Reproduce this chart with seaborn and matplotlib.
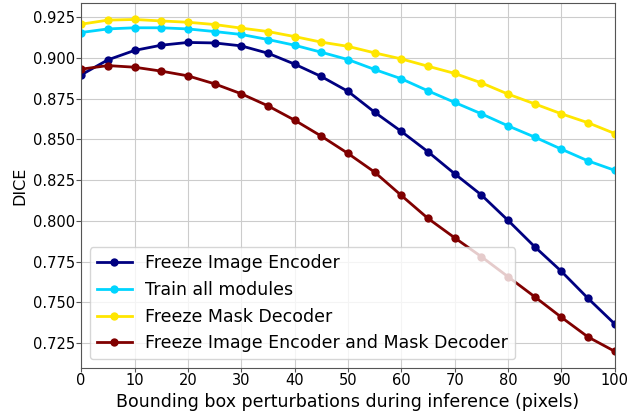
import numpy as np
import pandas as pd
import matplotlib
matplotlib.use("Agg")
import matplotlib.pyplot as plt
import seaborn as sns

# --- Data ---
perturbation = [0, 5, 10, 15, 20, 25, 30, 35, 40, 45, 50,
                55, 60, 65, 70, 75, 80, 85, 90, 95, 100]

freeze_image_encoder = [0.8896, 0.8988, 0.9046, 0.9078, 0.9095, 0.9092, 0.9074,
                        0.9029, 0.8962, 0.8886, 0.8795, 0.8667, 0.8549, 0.8424,
                        0.8289, 0.8159, 0.8003, 0.7841, 0.7690, 0.7524, 0.7367]
train_all_modules = [0.9156, 0.9178, 0.9185, 0.9185, 0.9178, 0.9162, 0.9144,
                     0.9113, 0.9078, 0.9035, 0.8990, 0.8929, 0.8872, 0.8798,
                     0.8727, 0.8657, 0.8583, 0.8514, 0.8440, 0.8368, 0.8310]
freeze_mask_decoder = [0.9207, 0.9232, 0.9236, 0.9227, 0.9219, 0.9205, 0.9183,
                       0.9162, 0.9131, 0.9097, 0.9071, 0.9031, 0.8994, 0.8949,
                       0.8905, 0.8847, 0.8778, 0.8718, 0.8657, 0.8602, 0.8536]
freeze_enc_and_dec = [0.8931, 0.8953, 0.8943, 0.8919, 0.8890, 0.8841, 0.8780,
                      0.8706, 0.8618, 0.8520, 0.8414, 0.8299, 0.8156, 0.8015,
                      0.7896, 0.7780, 0.7657, 0.7534, 0.7408, 0.7287, 0.7199]

labels = ["Freeze Image Encoder", "Train all modules",
          "Freeze Mask Decoder", "Freeze Image Encoder and Mask Decoder"]
series = [freeze_image_encoder, train_all_modules, freeze_mask_decoder, freeze_enc_and_dec]

df = pd.concat([pd.DataFrame({"x": perturbation, "dice": s, "setting": lab})
                for lab, s in zip(labels, series)])

# jet colormap, 4 evenly spaced colours
palette = [plt.cm.jet(v) for v in np.linspace(0, 1, 4)]

# --- Plot ---
fig, ax = plt.subplots(figsize=(6.39, 4.12), dpi=100)
fig.subplots_adjust(left=0.127, right=0.962, top=0.993, bottom=0.107)
sns.lineplot(data=df, x="x", y="dice", hue="setting", hue_order=labels,
             palette=palette, marker="o", markersize=6, markeredgewidth=0,
             linewidth=2, ax=ax)

ax.grid(True, color="#cccccc", linewidth=0.8)
ax.set_axisbelow(True)
for sp in ax.spines.values():
    sp.set_color("#555555")
ax.set_xlim(0, 100)
ax.set_xticks(range(0, 101, 10))
ax.tick_params(labelsize=10.5, pad=1.2, color="#555555")
ax.tick_params(axis="x", length=2.8)
ax.set_xlabel("Bounding box perturbations during inference (pixels)", fontsize=12.5, labelpad=3)
ax.set_ylabel("DICE", fontsize=11.5)
ax.legend(loc="lower left", fontsize=12.5, handlelength=2, title=None)

plt.savefig("out.png", dpi=100)
